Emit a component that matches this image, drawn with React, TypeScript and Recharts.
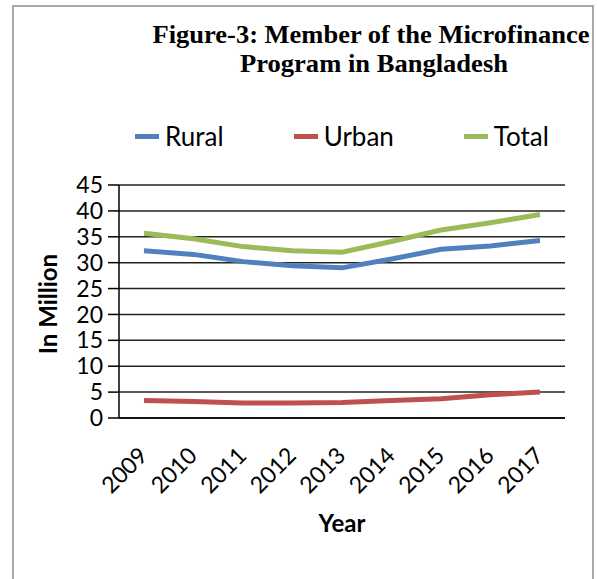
import React from 'react';
import { LineChart, Line, XAxis, YAxis, CartesianGrid, Legend } from 'recharts';

const years = ['2009', '2010', '2011', '2012', '2013', '2014', '2015', '2016', '2017'];
const rural = [32.3, 31.6, 30.2, 29.4, 29.0, 30.7, 32.6, 33.2, 34.3];
const urban = [3.4, 3.2, 2.9, 2.9, 3.0, 3.4, 3.7, 4.5, 5.0];
const total = [35.7, 34.6, 33.1, 32.3, 32.0, 34.1, 36.3, 37.7, 39.3];
const yTicks = [0, 5, 10, 15, 20, 25, 30, 35, 40, 45];

const seriesInfo = [
  { key: 'Rural', color: '#4F81BD' },
  { key: 'Urban', color: '#C0504D' },
  { key: 'Total', color: '#9BBB59' },
];

const data = years.map((y, i) => ({ year: y, Rural: rural[i], Urban: urban[i], Total: total[i] }));

const FONT = 'Lato, "Open Sans", sans-serif';
const SERIF = '"Liberation Serif", "Times New Roman", serif';

const XTick = (props: any) => {
  const { x, y, payload } = props;
  const ax = x + 5;
  const ay = y + 31;
  return (
    <text
      x={ax}
      y={ay}
      transform={`rotate(-45, ${ax}, ${ay})`}
      textAnchor="end"
      fontFamily={FONT}
      fontSize={23}
      fill="#000"
    >
      {payload.value}
    </text>
  );
};

const LegendContent = () => (
  <div
    style={{
      display: 'flex',
      justifyContent: 'center',
      alignItems: 'center',
      gap: 70,
      fontFamily: FONT,
      fontSize: 26,
      color: '#000',
    }}
  >
    {seriesInfo.map((s) => (
      <div key={s.key} style={{ display: 'flex', alignItems: 'center' }}>
        <span style={{ display: 'inline-block', width: 24, height: 5, background: s.color, marginRight: 6 }} />
        <span>{s.key}</span>
      </div>
    ))}
  </div>
);

export default function App() {
  return (
    <div style={{ position: 'absolute', left: 0, top: 0, width: 597, height: 579, background: '#fff' }}>
      <LineChart
        width={597}
        height={579}
        data={data}
        margin={{ top: 185, right: 32, bottom: 101, left: 19 }}
      >
        <CartesianGrid vertical={false} stroke="#222" strokeWidth={1.5} />
        <XAxis
          dataKey="year"
          height={60}
          padding={{ left: 25, right: 25 }}
          axisLine={{ stroke: '#000', strokeWidth: 1.5 }}
          tickLine={false}
          tick={<XTick />}
          interval={0}
        />
        <YAxis
          width={100}
          domain={[0, 45]}
          ticks={yTicks}
          interval={0}
          tickSize={11}
          tickMargin={5}
          axisLine={{ stroke: '#000', strokeWidth: 1.5 }}
          tickLine={{ stroke: '#000', strokeWidth: 1.5 }}
          tick={{ fontFamily: FONT, fontSize: 23, fill: '#000' }}
        />
        <YAxis
          yAxisId="right"
          orientation="right"
          width={0}
          domain={[0, 45]}
          tick={false}
          tickLine={false}
          axisLine={{ stroke: '#d9d9d9', strokeWidth: 1 }}
        />
        <Legend
          layout="horizontal"
          verticalAlign="middle"
          align="center"
          content={<LegendContent />}
          wrapperStyle={{ position: 'absolute', top: 120, left: 119, width: 446 }}
        />
        {seriesInfo.map((s) => (
          <Line
            key={s.key}
            type="linear"
            dataKey={s.key}
            stroke={s.color}
            strokeWidth={5}
            dot={false}
            activeDot={false}
            isAnimationActive={false}
          />
        ))}
      </LineChart>
      <svg
        width={597}
        height={579}
        style={{ position: 'absolute', left: 0, top: 0, pointerEvents: 'none' }}
      >
        <polyline points="13,579 13,6 593,6 593,579" fill="none" stroke="#8c8c8c" strokeWidth={1.5} />
        <text
          x={371}
          y={43}
          textAnchor="middle"
          fontFamily={SERIF}
          fontWeight="bold"
          fontSize={25}
          textLength={437}
          lengthAdjust="spacingAndGlyphs"
          fill="#000"
        >
          Figure-3: Member of the Microfinance
        </text>
        <text
          x={374}
          y={72}
          textAnchor="middle"
          fontFamily={SERIF}
          fontWeight="bold"
          fontSize={25}
          textLength={268}
          lengthAdjust="spacingAndGlyphs"
          fill="#000"
        >
          Program in Bangladesh
        </text>
        <text
          x={57}
          y={304}
          transform="rotate(-90, 57, 304)"
          textAnchor="middle"
          fontFamily={FONT}
          fontWeight="bold"
          fontSize={24}
          fill="#000"
        >
          In Million
        </text>
        <text
          x={342}
          y={532}
          textAnchor="middle"
          fontFamily={FONT}
          fontWeight="bold"
          fontSize={24}
          fill="#000"
        >
          Year
        </text>
      </svg>
    </div>
  );
}
